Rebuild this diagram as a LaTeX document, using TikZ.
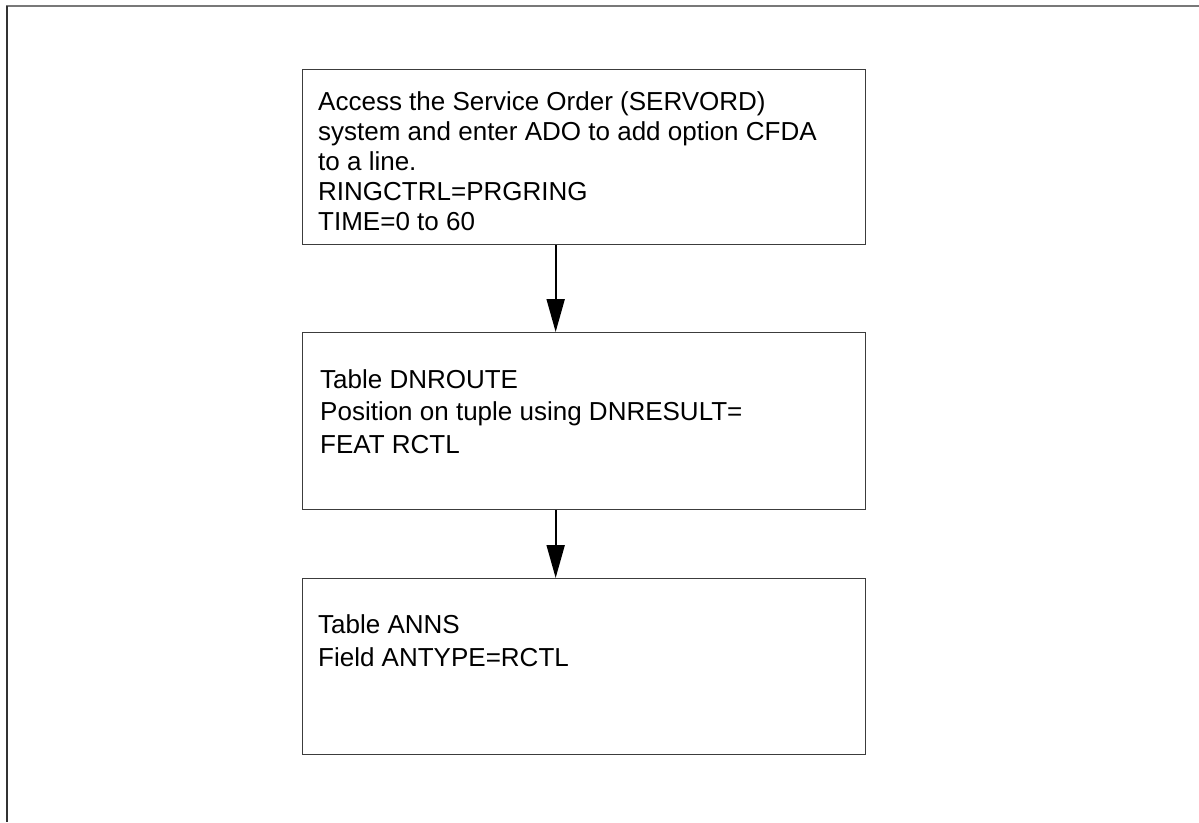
\documentclass[tikz,border=0pt]{standalone}
\usepackage{fontspec}
\setmainfont{Liberation Sans}
\usetikzlibrary{arrows.meta,positioning,calc}
\definecolor{frameGrey}{RGB}{120,120,120}
\definecolor{frameDark}{RGB}{50,50,50}
\definecolor{boxGrey}{RGB}{60,60,60}
\tikzset{
  stepbox/.style={
    rectangle, draw=boxGrey, line width=1.3pt, inner sep=0pt,
    minimum width=563pt, anchor=north west},
  steptext/.style={
    anchor=base west, align=left, inner sep=0pt,
    font=\fontsize{26}{30}\selectfont},
  widetext/.style={steptext, font=\fontsize{26}{32.5}\selectfont},
  flowarrow/.style={-{Triangle[length=33pt,width=18pt]}, line width=2pt, black}
}
\begin{document}
\begin{tikzpicture}[x=1pt,y=-1pt]
  \useasboundingbox (0,0) rectangle (1199,822);
  % page frame, cut at right and bottom
  \draw[frameGrey, line width=2pt] (6,6) -- (1199,6);
  \draw[frameDark, line width=2pt] (6.5,6) -- (6.5,822);

  % base anchor sits on the last line
  \node[stepbox, minimum height=175pt] (ado) at (302,69) {};
  \node[steptext] (adotext) at ($(ado.north west)+(16,161)$)
    {Access the Service Order (SERVORD)\\
     system and enter ADO to add option CFDA\\
     to a line.\\
     RINGCTRL=PRGRING\\
     TIME=0 to 60};

  \node[stepbox, minimum height=177pt] (dnroute) at (302,332) {};
  \node[widetext] (dnroutetext) at ($(dnroute.north west)+(18,121)$)
    {Table DNROUTE\\
     Position on tuple using DNRESULT=\\
     FEAT RCTL};

  \node[stepbox, minimum height=176pt] (anns) at (302,578) {};
  \node[widetext] (annstext) at ($(anns.north west)+(16,88)$)
    {Table ANNS\\
     Field ANTYPE=RCTL};

  \draw[flowarrow] ([xshift=-28.5pt]ado.south) -- ([xshift=-28.5pt]dnroute.north);
  \draw[flowarrow] ([xshift=-28.5pt]dnroute.south) -- ([xshift=-28.5pt]anns.north);
\end{tikzpicture}
\end{document}
